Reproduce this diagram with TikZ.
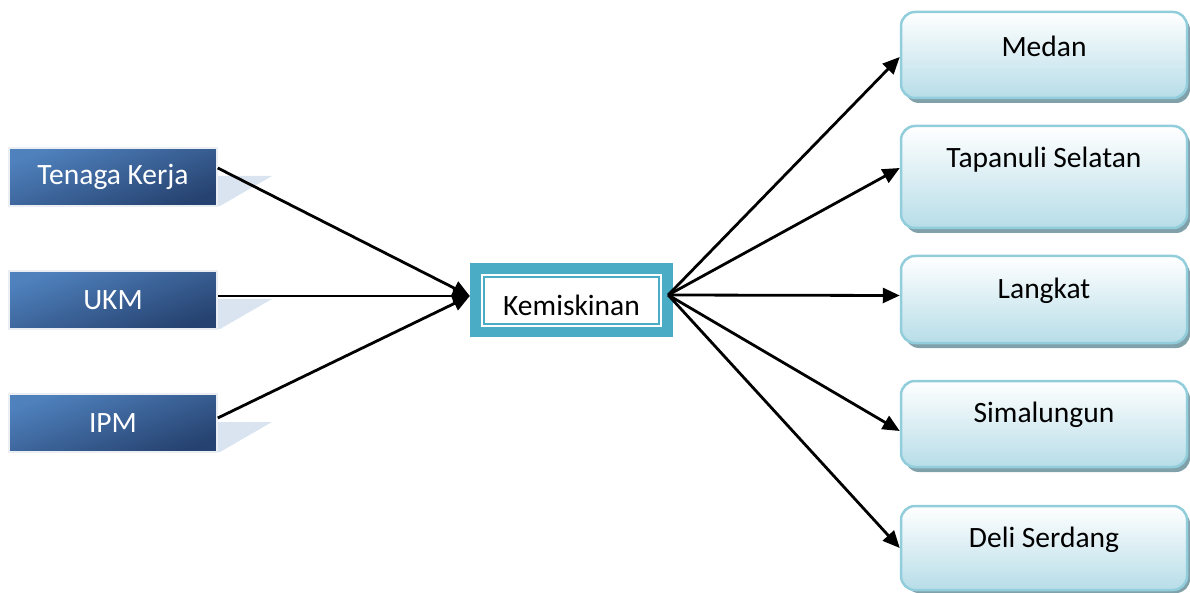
\documentclass[tikz,border=0pt]{standalone}
\usepackage{fontspec}
\setmainfont{Carlito}
\usetikzlibrary{arrows.meta}
\definecolor{teal}{RGB}{75,172,198}
\definecolor{lbtop}{RGB}{79,129,189}
\definecolor{lbbot}{RGB}{38,66,112}
\definecolor{lbedge}{RGB}{235,238,242}
\definecolor{shadowtri}{RGB}{218,228,240}
\definecolor{rbbot}{RGB}{183,221,232}
\definecolor{rbedge}{RGB}{146,205,220}
\definecolor{rbshadow}{RGB}{128,160,170}
\tikzset{
  leftbox/.style={draw=lbedge, line width=1.5pt, top color=lbtop, bottom color=lbbot, shading angle=20,
    minimum width=208pt, minimum height=58pt, inner sep=0pt, text=white, font=\fontsize{29.5}{31}\selectfont},
  rightbox/.style={draw=rbedge, line width=2.5pt, top color=white, bottom color=rbbot, rounded corners=14pt,
    minimum width=286pt, inner sep=0pt},
  rtext/.style={font=\fontsize{29.5}{31}\selectfont, text=black, inner sep=0pt},
  conn/.style={line width=2.8pt, -{Triangle[length=17pt,width=15pt]}},
}
\begin{document}
\begin{tikzpicture}[x=1pt,y=-1pt]
\useasboundingbox (0,0) rectangle (1190,593);
% left box shadows
\fill[shadowtri] (217,176) -- (272,176) -- (220,206) -- (217,206) -- cycle;
\fill[shadowtri] (217,299) -- (272,299) -- (220,329) -- (217,329) -- cycle;
\fill[shadowtri] (217,422) -- (272,422) -- (220,452) -- (217,452) -- cycle;
% left boxes
\node[leftbox] (tk) at (113,177) {Tenaga Kerja};
\node[leftbox] (ukm) at (113,300) {UKM};
\node[leftbox] (ipm) at (113,423) {IPM};
% center box
\node[fill=teal, minimum width=203pt, minimum height=74pt, inner sep=0pt] (km) at (571.5,300) {};
\fill[white] ([shift={(11pt,-11pt)}]km.north west) rectangle ([shift={(-11pt,10pt)}]km.south east);
\draw[teal, line width=1.5pt] ([shift={(14pt,-14pt)}]km.north west) rectangle ([shift={(-14pt,13pt)}]km.south east);
\node[rtext] (kmt) at (571.5,305) {Kemiskinan};
% right box shadows
\fill[rbshadow, rounded corners=14pt] (905,16) rectangle (1190,103);
\fill[rbshadow, rounded corners=14pt] (905,130) rectangle (1190,233);
\fill[rbshadow, rounded corners=14pt] (905,260) rectangle (1190,348);
\fill[rbshadow, rounded corners=14pt] (905,385) rectangle (1190,472);
\fill[rbshadow, rounded corners=14pt] (905,510) rectangle (1190,593);
% right boxes
\node[rightbox, minimum height=86pt] (md) at (1044,55) {};
\node[rightbox, minimum height=102pt] (ts) at (1044,177) {};
\node[rightbox, minimum height=87pt] (lk) at (1044,299.5) {};
\node[rightbox, minimum height=86pt] (sm) at (1044,424) {};
\node[rightbox, minimum height=84pt] (ds) at (1044,548) {};
\node[rtext] (mdt) at (1044,46) {Medan};
\node[rtext] (tst) at (1044,160) {Tapanuli Selatan};
\node[rtext] (lkt) at (1044,291) {Langkat};
\node[rtext] (smt) at (1044,415) {Simalungun};
\node[rtext] (dst) at (1044,540) {Deli Serdang};
% connectors
\draw[conn] ([yshift=9pt]tk.east) -- ([yshift=4pt]km.west);
\draw[conn] ([yshift=4pt]ukm.east) -- ([yshift=4pt]km.west);
\draw[conn] ([yshift=5pt]ipm.east) -- ([yshift=4pt]km.west);
\draw[conn] ([shift={(-5pt,5pt)}]km.east) -- ([yshift=-2pt]md.west);
\draw[conn] ([shift={(-5pt,5pt)}]km.east) -- ([yshift=9pt]ts.west);
\draw[conn] ([shift={(-5pt,5pt)}]km.east) -- ([yshift=4pt]lk.west);
\draw[conn] ([shift={(-5pt,5pt)}]km.east) -- ([yshift=-7pt]sm.west);
\draw[conn] ([shift={(-5pt,5pt)}]km.east) -- (ds.west);
\end{tikzpicture}
\end{document}
